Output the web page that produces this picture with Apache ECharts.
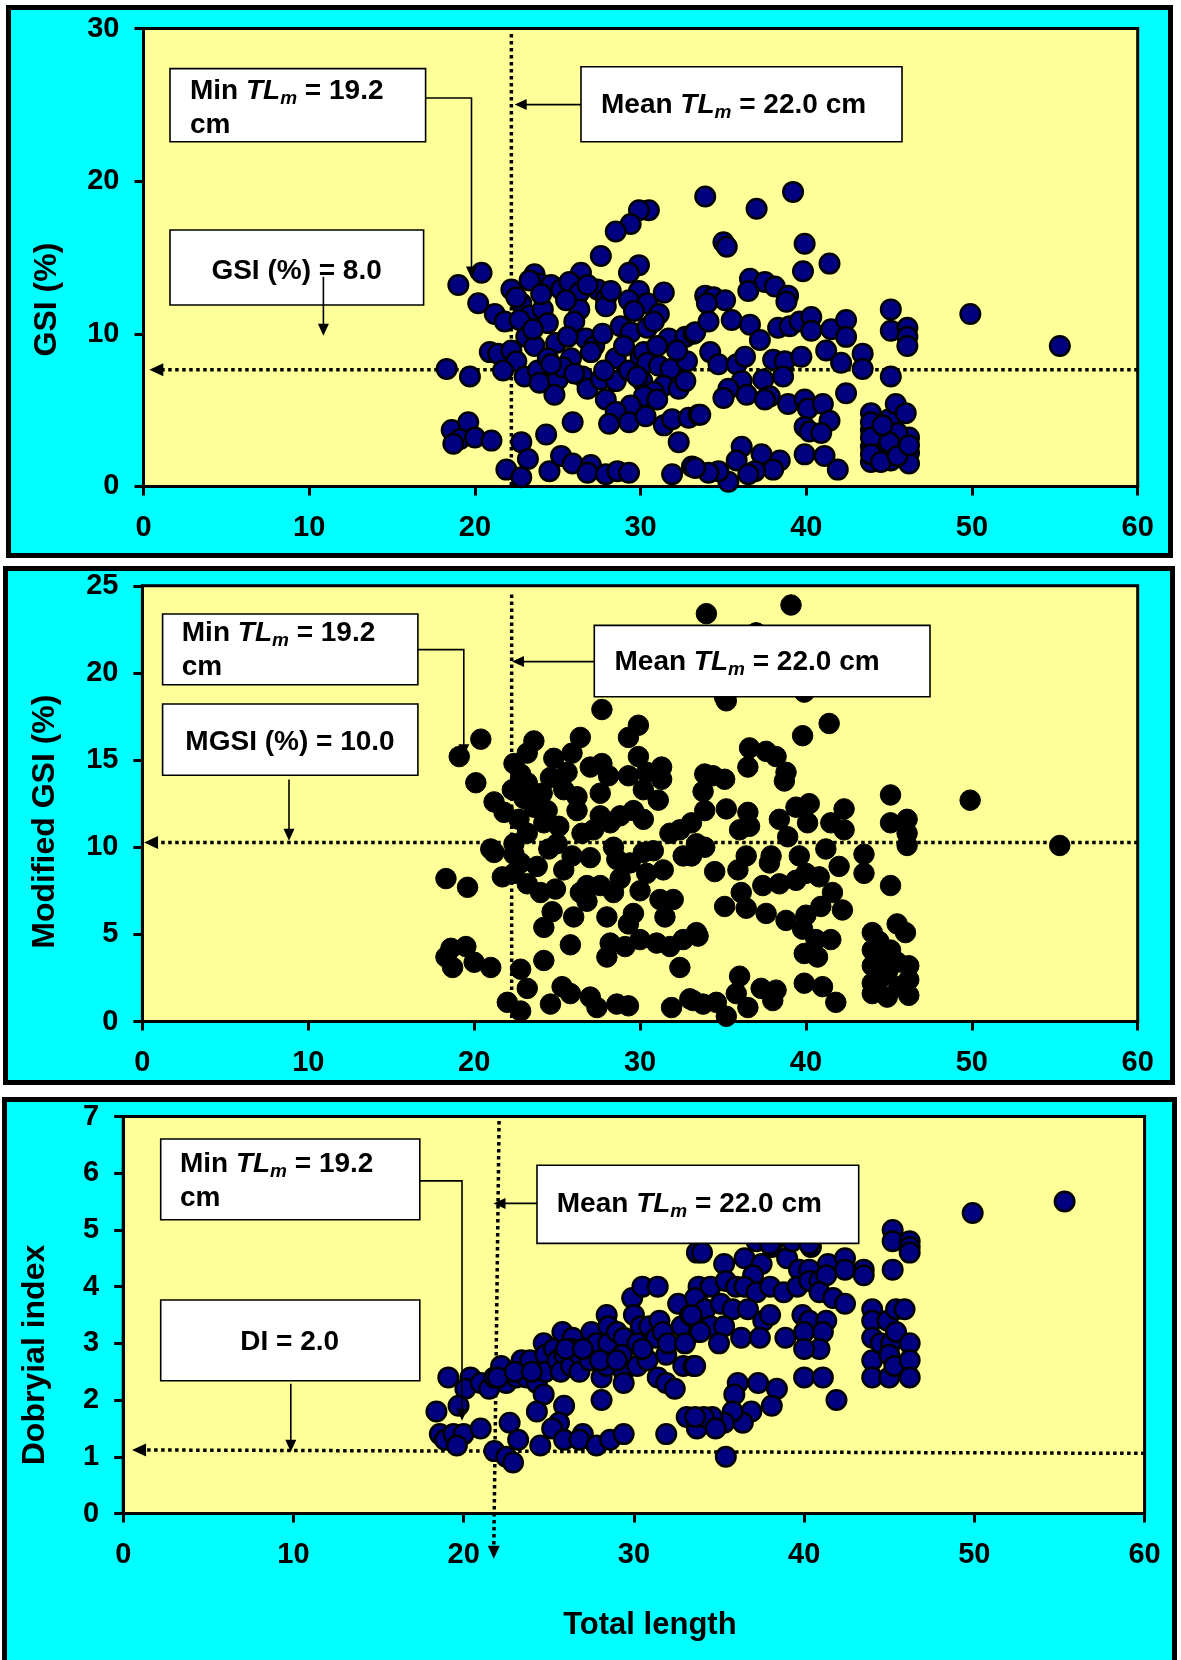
<!DOCTYPE html>
<html><head><meta charset="utf-8">
<script src="https://cdn.jsdelivr.net/npm/echarts@6/dist/echarts.min.js"></script>
<style>
html,body{margin:0;padding:0;background:#fff;}
#wrap{position:relative;width:1181px;height:1660px;overflow:hidden;background:#fff;}
.panel{position:absolute;background:#00FFFF;border:5px solid #000;box-sizing:border-box;}
#chart{position:absolute;left:0;top:0;width:1181px;height:1660px;}
</style></head><body>
<div id="wrap">
<div class="panel" style="left:6px;top:5px;width:1167px;height:553px"></div>
<div class="panel" style="left:3px;top:566px;width:1172px;height:519px"></div>
<div class="panel" style="left:2px;top:1097px;width:1175px;height:600px"></div>
<div id="chart"></div>
</div>
<script>
// ---------- data ----------
const xRange = [0, 60, 10];
const gsiRange = [0, 30, 10];
const mgsiRange = [0, 25, 5];
const diRange = [0, 7, 1];
const yTitles = ['GSI (%)', 'Modified GSI (%)', 'Dobryial index'];
const xTitle = 'Total length';

const gsiData = [
[30.5,18.1],[29.9,18.1],[29.4,17.2],[28.5,16.7],[27.6,15.1],[33.9,19.0],
[29.9,14.5],[29.3,14.0],[26.4,14.0],[23.6,13.9],[23.9,13.3],[20.4,14.0],[19.0,13.2],[20.2,12.0],[22.2,12.9],[24.6,13.2],[25.2,12.9],[25.7,13.4],[26.3,12.7],[27.4,12.9],[27.9,12.3],[27.9,11.8],[29.9,12.8],[31.4,12.7],[29.3,12.2],[30.4,12.0],[31.1,11.3],[21.2,11.3],[21.8,10.8],[22.8,12.0],[23.3,11.2],[24.1,11.6],[24.4,10.7],[26.3,11.6],[26.0,10.8],[22.7,10.9],[23.1,9.8],[23.6,9.2],[24.9,9.4],[26.7,9.7],[27.2,9.2],[27.7,10.0],[28.8,10.5],[29.4,10.1],[30.4,10.4],[31.7,9.7],[32.7,9.8],[33.2,10.0],
[20.9,8.8],[21.4,8.7],[22.2,8.9],[22.5,8.2],[21.7,7.6],[18.3,7.7],[19.7,7.2],[23.0,7.2],[23.8,7.6],[24.4,8.4],[23.9,6.8],[25.0,7.0],[24.8,6.0],[25.8,8.4],[25.3,7.8],[26.5,7.2],[26.8,6.4],[27.6,7.0],[28.5,6.9],[28.5,8.4],[29.3,7.6],[30.0,8.5],[30.2,8.8],[30.4,8.1],[31.1,7.9],[31.8,7.7],[32.8,8.2],[30.1,6.9],[31.4,6.6],[32.3,6.4],[30.8,6.2],[30.2,5.9],[27.9,5.7],[29.4,5.3],[28.5,4.9],[28.1,4.1],[29.3,4.2],[30.3,4.6],[31.4,4.0],[31.9,4.4],[32.9,4.5],[33.5,4.7],[32.3,2.9],[25.9,4.2],[24.3,3.4],
[18.6,3.7],[19.6,4.2],[19.1,3.1],[18.7,2.8],[20.0,3.2],[21.0,3.0],[22.8,2.9],[23.2,1.8],[21.9,1.1],[22.8,0.6],[24.5,1.0],[25.2,2.0],[25.9,1.5],[27.0,1.4],[26.8,0.9],[27.9,0.8],[28.6,1.0],[29.3,0.9],[31.9,0.8],[33.1,1.3],
[39.2,19.3],[37.0,18.2],[35.0,16.0],[35.2,15.7],[39.9,15.9],[41.4,14.6],[39.8,14.1],[36.6,13.6],[36.5,12.8],[37.5,13.4],[38.1,13.1],[38.9,12.5],[38.8,12.1],[33.9,12.5],[34.4,12.4],[35.1,12.2],[34.0,12.0],[33.3,10.1],[34.1,10.8],[35.5,10.9],[36.6,10.6],[34.2,8.8],[34.7,8.0],[35.8,8.0],[36.3,8.5],[37.2,9.6],[38.3,10.4],[39.0,10.5],[39.6,10.8],[40.3,11.1],[40.3,10.2],[38.0,8.3],[38.7,8.2],[39.7,8.5],[41.2,8.9],[41.5,10.3],[42.4,10.9],[42.4,9.8],[42.1,8.1],[43.4,8.7],[43.4,7.7],[45.1,11.6],[45.1,10.2],[46.1,10.4],[46.1,9.8],[46.1,9.2],[45.1,7.2],[49.9,11.3],
[38.6,7.2],[37.4,7.0],[36.1,6.9],[35.3,6.4],[35.0,5.8],[36.4,6.0],[37.8,5.9],[37.5,5.7],[38.9,5.4],[39.9,5.7],[40.1,5.1],[41.0,5.4],[41.4,4.3],[39.9,3.9],[40.2,3.6],[40.9,3.5],[42.4,6.1],[43.9,4.8],[43.9,3.7],[43.9,2.6],[43.9,1.6],[45.0,4.4],[44.6,3.0],[45.4,5.4],[46.0,4.8],[46.2,3.2],[46.2,2.2],[46.2,1.5],[45.1,1.7],[44.8,2.4],[45.5,3.5],[33.6,4.7],[39.9,2.1],[41.1,2.0],[41.9,1.1],[36.1,2.6],[35.8,1.7],[37.3,2.1],[38.4,1.7],[38.0,1.1],[36.9,1.0],[35.3,0.3],[34.7,1.0],[34.1,0.9],[33.3,1.2],[36.5,0.8],[55.3,9.2],
[43.9,4.2],[43.9,3.2],[43.9,2.1],[44.5,1.6],[45.0,2.9],[45.5,2.0],[44.6,4.0],[46.2,2.7],
[23.3,13.5],[22.5,12.4],[24.0,12.6],[25.5,12.2],[26.8,13.2],[28.2,12.8],[29.6,11.5],[30.8,10.8],[23.5,10.3],[25.6,9.8],[27.0,8.8],[29.0,9.2],[31.0,9.2],[32.2,8.9],[24.6,8.0],[26.0,7.4],[27.8,7.6],[29.8,7.2],[31.0,5.7],[32.7,6.9]
];

const mgsiData = [
[27.7,17.9],[29.9,17.0],[29.3,16.3],[29.9,15.2],[29.3,14.1],[30.4,14.3],[31.3,14.6],[31.3,13.9],[31.1,12.7],[30.2,13.3],[30.2,11.6],[29.6,12.1],[26.4,16.3],[25.9,15.4],[27.0,14.6],[27.7,14.8],[28.1,14.1],[27.6,13.1],[27.6,11.8],[27.2,11.0],[28.2,11.4],[28.8,11.8],[28.4,10.0],[28.6,9.3],[29.4,9.1],[30.2,9.7],[30.4,8.5],[31.4,8.7],[31.8,10.8],[32.4,11.0],[33.1,11.4],[32.6,9.5],[33.4,10.2],[32.0,7.0],[31.2,7.0],[30.0,7.5],[29.6,6.2],[29.3,5.6],[28.0,6.0],[28.2,4.5],[28.0,3.7],[29.1,4.3],[30.0,4.7],[31.0,4.5],[31.8,4.3],[32.6,4.7],[33.4,5.1],[32.4,3.1],[26.8,7.8],[26.4,7.4],[26.8,6.9],[27.6,7.8],[28.4,7.4],[25.8,4.4],[24.2,3.5],[25.4,8.7],[25.9,9.5],[24.7,6.3],[24.0,7.4],[24.9,7.6],[23.2,7.9],[23.8,8.9],[24.5,9.9],[25.0,10.2],[24.2,11.4],[23.2,10.8],[22.7,11.6],[23.6,12.3],[24.4,12.1],[24.1,13.1],[23.2,13.7],[22.3,13.3],[22.4,14.8],[23.2,15.4],[23.6,16.1],[24.8,15.1],[25.6,14.3],[25.4,13.3],[26.2,12.9],[26.2,12.1],[21.2,12.6],[21.8,12.0],[22.4,10.2],[21.2,9.7],[21.7,8.3],[22.8,9.1],[22.4,8.5],[21.0,9.9],[20.4,16.2],[19.1,15.2],[20.1,13.7],[18.3,8.2],[19.6,7.7],[18.6,4.2],[19.5,4.3],[18.7,3.1],[20.0,3.4],[21.0,3.1],[18.3,3.7],[22.8,3.0],[23.2,1.9],[22.0,1.1],[22.8,0.6],[24.6,1.0],[25.3,2.0],[25.8,1.6],[27.0,1.4],[27.4,0.8],[28.6,1.0],[29.3,0.9],[31.9,0.8],[33.0,1.3],
[34.0,23.4],[39.1,23.9],[37.0,22.3],[35.1,18.6],[39.9,18.9],[35.2,18.4],[41.4,17.1],[39.8,16.4],[36.6,15.7],[36.5,14.6],[37.6,15.5],[38.2,15.2],[38.8,14.3],[38.7,13.8],[33.9,14.2],[34.4,14.1],[35.1,13.9],[33.8,13.2],[33.9,12.1],[35.2,12.2],[36.5,12.0],[36.0,11.0],[36.6,11.2],[38.4,11.6],[39.4,12.3],[40.2,12.5],[40.1,11.4],[38.9,10.6],[39.6,9.5],[37.9,9.5],[37.8,9.1],[35.9,8.7],[36.4,9.5],[34.5,8.6],[33.9,10.0],[33.1,9.5],[41.5,11.4],[42.3,12.2],[42.3,11.0],[41.2,9.9],[42.0,8.9],[40.8,8.3],[43.5,9.6],[43.5,8.5],[45.1,13.0],[45.1,11.4],[46.1,11.6],[46.1,10.8],[46.1,10.1],[45.1,7.8],[49.9,12.7],
[40.0,8.5],[39.4,8.1],[38.4,7.9],[37.4,7.8],[36.1,7.4],[35.1,6.6],[36.4,6.5],[37.6,6.2],[38.8,5.8],[40.0,6.1],[40.9,6.6],[41.6,7.4],[42.2,6.4],[39.8,5.3],[39.9,3.9],[40.7,3.7],[41.5,4.7],[40.6,4.7],[33.5,4.9],[44.0,5.1],[44.0,4.1],[44.0,3.2],[44.0,2.2],[44.9,3.9],[44.9,2.8],[44.9,1.4],[45.5,5.6],[46.0,5.1],[46.2,3.2],[46.2,2.4],[46.2,1.5],[45.1,4.1],[45.5,3.4],[36.0,2.6],[35.8,1.6],[37.3,1.9],[38.2,1.8],[38.0,1.2],[39.9,2.2],[41.0,2.0],[41.8,1.1],[36.5,0.8],[35.2,0.3],[34.6,1.1],[33.8,1.0],[33.2,1.2],[55.3,10.1],
[44.0,1.6],[44.5,2.5],[45.6,2.0],[44.4,4.6],
[23.0,12.8],[22.8,14.2],[24.6,14.0],[25.1,11.2],[26.5,10.8],[27.0,9.4],[28.8,8.2],[30.8,9.8],[31.5,6.0],[24.2,5.4],[22.4,9.6],[26.0,6.0]
];

const diData = [
[19.1,2.4],[20.4,2.4],[20.1,2.2],[21.0,2.3],[21.5,2.2],[21.8,2.4],[22.2,2.6],[22.5,2.3],[23.1,2.4],[23.4,2.7],[23.9,2.7],[23.7,2.4],[24.3,2.3],[24.7,3.0],[24.8,2.8],[24.8,2.5],[24.7,2.1],[25.3,2.9],[25.8,3.2],[26.4,3.1],[25.5,2.7],[25.9,2.8],[26.3,2.9],[25.7,2.5],[26.3,2.6],[26.8,2.8],[26.8,2.5],[27.4,2.7],[27.5,3.2],[27.8,3.0],[28.1,2.4],[28.1,2.0],[28.4,3.5],[28.5,3.3],[28.5,3.0],[28.4,2.6],[29.0,3.2],[29.4,3.1],[29.3,2.8],[29.4,2.5],[29.4,2.3],[29.9,3.8],[30.5,4.0],[31.4,4.0],[30.0,3.5],[30.4,3.3],[30.9,3.3],[30.2,3.0],[30.2,2.6],[30.8,2.7],[31.3,3.1],[31.5,3.4],[31.7,3.2],[31.4,2.4],[31.9,2.3],[32.4,2.2],[31.9,2.8],[32.6,3.7],[32.8,3.3],[33.3,3.5],[32.9,2.6],[33.5,2.6],[33.7,4.6],[33.8,3.9],[33.7,3.4],[33.8,3.2],
[18.4,1.8],[19.7,1.9],[18.6,1.4],[18.9,1.3],[19.4,1.4],[20.0,1.4],[19.6,1.2],[21.0,1.5],[21.8,1.1],[22.5,1.0],[22.9,0.9],[22.7,1.6],[23.2,1.3],[24.3,1.8],[24.5,1.2],[25.9,1.9],[25.6,1.6],[25.2,1.5],[25.9,1.3],[27.0,1.4],[26.8,1.3],[27.8,1.2],[28.6,1.3],[29.4,1.4],[31.9,1.4],[33.1,1.7],[33.7,1.5],
[49.9,5.3],[45.2,5.0],[45.2,4.8],[46.2,4.8],[46.2,4.7],[46.2,4.6],[45.2,4.3],[34.0,4.6],[35.3,4.4],[36.5,4.5],[38.1,4.7],[39.0,4.5],[40.4,4.7],[37.5,4.4],[39.7,4.3],[40.3,4.3],[41.4,4.4],[42.4,4.5],[42.4,4.3],[43.5,4.3],[43.5,4.2],[37.0,4.2],[33.8,4.0],[34.5,4.0],[35.4,4.1],[36.0,4.0],[36.5,4.0],[37.2,3.9],[38.0,4.0],[38.8,3.9],[39.6,4.0],[40.3,4.1],[40.9,4.1],[41.3,4.2],[33.6,3.8],[34.2,3.6],[35.1,3.7],[35.8,3.6],[36.7,3.6],[37.6,3.4],[38.0,3.5],[40.9,3.9],[41.7,3.8],[42.4,3.7],[33.4,3.5],[39.9,3.5],[40.3,3.4],[41.3,3.4],[34.5,3.3],[35.3,3.3],[36.3,3.1],[37.4,3.1],[35.0,3.0],[38.9,3.1],[40.0,3.2],[41.1,3.2],[40.9,2.9],[40.0,2.9],[33.9,3.2],[44.0,3.6],[44.0,3.4],[44.0,3.1],[44.0,2.7],[44.0,2.4],[44.9,3.4],[45.4,3.6],[45.9,3.6],[44.5,3.0],[45.1,3.0],[45.4,3.2],[45.0,2.8],[45.0,2.4],[45.3,2.6],[46.2,3.0],[46.2,2.7],[46.2,2.4],[33.6,2.6],[40.0,2.4],[41.1,2.4],[41.9,2.0],[36.1,2.3],[35.9,2.1],[37.3,2.3],[38.4,2.2],[38.1,1.9],[36.9,1.8],[36.4,1.6],[35.8,1.8],[35.3,1.6],[34.6,1.7],[34.1,1.7],[33.6,1.7],[34.8,1.5],[35.4,1.0],[55.3,5.5],[37.2,4.8],[38.0,4.75],[39.3,4.8],[40.3,4.75],
[22.0,2.4],[23.0,2.5],[24.0,2.5],[26.0,2.9],[27.0,2.9],[28.0,2.7],[29.0,2.7],[30.5,2.9],[32.0,3.0],[33.0,3.0]
];

// reference lines: vertical [x top, y top, x bottom, y bottom]; horizontal [y right, y left, x left]
const meanLines = [[22.2, 29.65, 22.2, 0], [22.26, 24.5, 22.26, 0], [22.08, 6.92, 21.77, -0.8]];
const indexLines = [[7.65, 7.65, 0.35], [10.27, 10.27, 0.1], [1.06, 1.12, 0.52]];
const boxLabels = [
  ['19.2', 'GSI (%) = 8.0', '22.0'],
  ['19.2', 'MGSI (%) = 10.0', '22.0'],
  ['19.2', 'DI = 2.0', '22.0']
];

// ---------- chart ----------
const F = '"Liberation Sans", Arial, sans-serif';
const chart = echarts.init(document.getElementById('chart'), null, {renderer: 'canvas'});

const gridsPx = [
  {left: 143.5, top: 28.6, width: 994.2, height: 457.8},
  {left: 142.4, top: 585.8, width: 995.3, height: 435.7},
  {left: 123.2, top: 1116.5, width: 1021.4, height: 397}
];
const yRanges = [gsiRange, mgsiRange, diRange];
const yNameGap = [80, 81, 72];
const yNamePad = [[0, 84, 0, 0], [0, 36, 0, 0], [0, 80, 0, 0]];

const axisCommon = {
  axisLine: {show: true, onZero: false, lineStyle: {color: '#000', width: 3}},
  axisTick: {show: true, length: 9, lineStyle: {color: '#000', width: 3}},
  splitLine: {show: false}
};
const labelY = {color: '#000', fontSize: 29, fontWeight: 'bold', fontFamily: F, margin: 24};
const labelX = {color: '#000', fontSize: 29, fontWeight: 'bold', fontFamily: F, margin: 27};

const option = {
  animation: false,
  backgroundColor: 'transparent',
  grid: gridsPx.map(g => Object.assign({show: true, backgroundColor: '#FFFF99', borderColor: '#000', borderWidth: 3, containLabel: false, outerBoundsMode: 'none'}, g)),
  xAxis: [0, 1, 2].map(i => Object.assign({
    type: 'value', gridIndex: i, min: xRange[0], max: xRange[1], interval: xRange[2],
    name: i === 2 ? xTitle : '', nameLocation: 'middle', nameGap: 96,
    nameTextStyle: {color: '#000', fontSize: 31, fontWeight: 'bold', fontFamily: F, padding: [0, 0, 0, 32]},
    axisLabel: labelX
  }, axisCommon)),
  yAxis: [0, 1, 2].map(i => Object.assign({
    type: 'value', gridIndex: i, min: yRanges[i][0], max: yRanges[i][1], interval: yRanges[i][2],
    name: yTitles[i], nameLocation: 'middle', nameGap: yNameGap[i],
    nameTextStyle: {color: '#000', fontSize: 32, fontWeight: 'bold', fontFamily: F, padding: yNamePad[i]},
    axisLabel: labelY
  }, axisCommon)),
  series: [
    {type: 'scatter', xAxisIndex: 0, yAxisIndex: 0, data: gsiData, symbolSize: 19.5, clip: false, silent: true, z: 2,
     itemStyle: {color: '#000080', borderColor: '#000', borderWidth: 2.5, opacity: 1}},
    {type: 'scatter', xAxisIndex: 1, yAxisIndex: 1, data: mgsiData, symbolSize: 20.5, clip: false, silent: true, z: 2,
     itemStyle: {color: '#000', borderColor: '#000', borderWidth: 1, opacity: 1}},
    {type: 'scatter', xAxisIndex: 2, yAxisIndex: 2, data: diData, symbolSize: 19.5, clip: false, silent: true, z: 2,
     itemStyle: {color: '#000080', borderColor: '#000', borderWidth: 2.5, opacity: 1}}
  ]
};
chart.setOption(option);

// ---------- annotations ----------
const R = {
  b: {fontSize: 28, fontWeight: 'bold', fontFamily: F, fill: '#000', lineHeight: 34},
  i: {fontSize: 28, fontWeight: 'bold', fontStyle: 'italic', fontFamily: F, fill: '#000', lineHeight: 34},
  s: {fontSize: 19, fontWeight: 'bold', fontStyle: 'italic', fontFamily: F, fill: '#000', lineHeight: 34, verticalAlign: 'bottom'}
};
function px(gi, v) { return chart.convertToPixel({gridIndex: gi}, v); }
function box(x, y, w, h) {
  return {type: 'rect', z: 100, silent: true, shape: {x: x, y: y, width: w, height: h},
          style: {fill: '#fff', stroke: '#000', lineWidth: 1.6}};
}
function pline(pts, lw, z) {
  return {type: 'polyline', z: z || 101, silent: true, shape: {points: pts}, style: {stroke: '#000', lineWidth: lw, fill: null}};
}
function arrowHead(tip, dir, len, half, z) {
  const [tx, ty] = tip; let pts;
  if (dir === 'down') pts = [[tx, ty], [tx - half, ty - len], [tx + half, ty - len]];
  else pts = [[tx, ty], [tx + len, ty - half], [tx + len, ty + half]];
  return {type: 'polygon', z: z || 101, silent: true, shape: {points: pts}, style: {fill: '#000'}};
}
function dotted(p1, p2) {
  return {type: 'line', z: 1, silent: true, shape: {x1: p1[0], y1: p1[1], x2: p2[0], y2: p2[1]},
          style: {stroke: '#000', lineWidth: 3.5, lineDash: [3.5, 3.5]}};
}
function txt(x, y, text, align) {
  return {type: 'text', z: 102, silent: true,
          style: {x: x, y: y, text: text, rich: R, align: align, verticalAlign: 'middle', fontFamily: F, fontSize: 28, fontWeight: 'bold', fill: '#000'}};
}
function minText(v) { return '{b|Min }{i|TL}{s|m}{b| = ' + v + '}\n{b|cm}'; }
function meanText(v) { return '{b|Mean }{i|TL}{s|m}{b| = ' + v + ' cm}'; }

// callout layout per panel (pixels)
const L = [
  {minBox: [170, 68.6, 255.6, 73.2], minTxt: [190, 108], minConn: [[425.6, 98], [471.5, 98], [471.5, 268]], minTip: [471.5, 278.6],
   idxBox: [170, 230, 253.6, 75], idxTxt: [296.6, 271.4], idxLine: [[323.4, 276.8], [323.4, 325]], idxTip: [323.4, 335.7],
   meanBox: [581, 66.8, 321, 75], meanTxt: [601, 105], meanLine: [[581, 104.6], [525, 104.6]], meanTip: [514.7, 104.6]},
  {minBox: [162.6, 614, 255.3, 70.7], minTxt: [181.8, 650.4], minConn: [[417.9, 649.6], [463.8, 649.6], [463.8, 746]], minTip: [463.8, 756.3],
   idxBox: [162.6, 704, 255.3, 71.2], idxTxt: [290, 742.5], idxLine: [[289, 779.4], [289, 830]], idxTip: [289, 840.7],
   meanBox: [594.3, 625.4, 335.7, 71.3], meanTxt: [614.5, 662.3], meanLine: [[594.3, 661.6], [522, 661.6]], meanTip: [512, 661.6]},
  {minBox: [160.7, 1139, 259.1, 80.8], minTxt: [179.9, 1181.3], minConn: [[419.8, 1180.9], [462, 1180.9], [462, 1410]], minTip: [462, 1420.8],
   idxBox: [160.7, 1300, 259.1, 80.8], idxTxt: [289.7, 1342.6], idxLine: [[290.8, 1383.7], [290.8, 1441]], idxTip: [290.8, 1451.7],
   meanBox: [537, 1165.2, 321.7, 78.2], meanTxt: [556.8, 1204.5], meanLine: [[537, 1203.4], [504, 1203.4]], meanTip: [493.5, 1203.4]}
];

const g = [];
for (let i = 0; i < 3; i++) {
  const m = meanLines[i], h = indexLines[i], l = L[i];
  const vTop = px(i, [m[0], m[1]]), vBot = px(i, [m[2], m[3]]);
  if (i === 2) {
    g.push(dotted(vTop, [vBot[0], vBot[1] - 12]));
    g.push(arrowHead(vBot, 'down', 13, 6, 1));
  } else {
    g.push(dotted(vTop, vBot));
  }
  const hR = px(i, [xRange[1], h[0]]), hL = px(i, [h[2], h[1]]);
  g.push(dotted(hR, [hL[0] + 12, hL[1]]));
  g.push(arrowHead(hL, 'left', 14, 6.5, 1));
  g.push(box.apply(null, l.minBox));
  g.push(txt(l.minTxt[0], l.minTxt[1], minText(boxLabels[i][0]), 'left'));
  g.push(pline(l.minConn, 1.6));
  g.push(arrowHead(l.minTip, 'down', 12, 5.5));
  g.push(box.apply(null, l.idxBox));
  g.push(txt(l.idxTxt[0], l.idxTxt[1], '{b|' + boxLabels[i][1] + '}', 'center'));
  g.push(pline(l.idxLine, 1.6));
  g.push(arrowHead(l.idxTip, 'down', 12, 5.5));
  g.push(box.apply(null, l.meanBox));
  g.push(txt(l.meanTxt[0], l.meanTxt[1], meanText(boxLabels[i][2]), 'left'));
  g.push(pline(l.meanLine, 1.6));
  g.push(arrowHead(l.meanTip, 'left', 12, 5.5));
}
chart.setOption({graphic: {elements: g}});
</script>
</body></html>
